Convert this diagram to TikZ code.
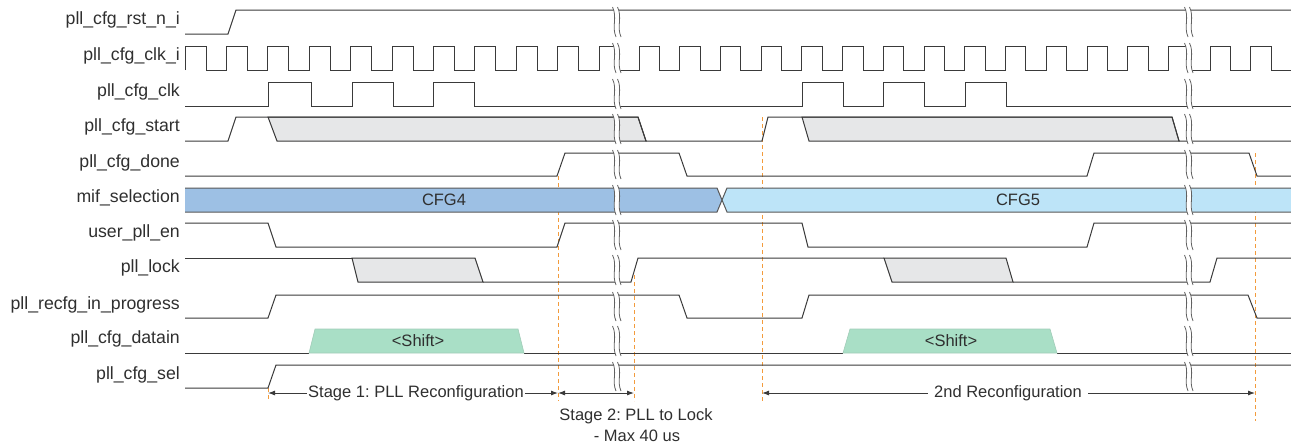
\documentclass[tikz,border=0pt]{standalone}
\usepackage{fontspec}
\setmainfont{Liberation Sans}
\usetikzlibrary{arrows.meta}
\definecolor{wire}{HTML}{3A3A3A}
\definecolor{txt}{HTML}{2F2F2F}
\definecolor{grayfill}{HTML}{E6E7E8}
\definecolor{cfgfour}{HTML}{9DC0E4}
\definecolor{cfgfive}{HTML}{BDE4F8}
\definecolor{shiftgreen}{HTML}{A9DFC6}
\definecolor{guide}{HTML}{F39B3C}
\frenchspacing
\newcommand{\us}{\char"5F\relax}
\tikzset{
  sig/.style={draw=wire, line width=1pt, line join=miter},
  lbl/.style={anchor=mid east, inner sep=0pt, text=txt, font=\fontsize{17.7}{21}\selectfont},
  intxt/.style={inner sep=0pt, text=txt, font=\fontsize{16.5}{19}\selectfont},
  ann/.style={inner sep=1pt, text=txt, font=\fontsize{16.5}{19}\selectfont},
  guideline/.style={draw=guide, line width=1pt, dash pattern=on 4pt off 3pt},
  dim/.style={draw=wire, line width=0.9pt, -{Latex[length=7pt,width=5pt]}},
  dimboth/.style={draw=wire, line width=0.9pt, {Latex[length=7pt,width=5pt]}-{Latex[length=7pt,width=5pt]}},
  brkline/.style={draw=wire!80, line width=0.8pt}
}
\newcommand{\brkmark}[3]{%
  \fill[white] (#1-2.5,#2-3) .. controls (#1+2.5,#2+7) and (#1-3.5,#3-7) .. (#1+1,#3+3)
    -- (#1+6,#3+3) .. controls (#1+1.5,#3-7) and (#1+7.5,#2+7) .. (#1+2.5,#2-3) -- cycle;
  \draw[brkline] (#1-2.5,#2-3) .. controls (#1+2.5,#2+7) and (#1-3.5,#3-7) .. (#1+1,#3+3);
  \draw[brkline] (#1+2.5,#2-3) .. controls (#1+7.5,#2+7) and (#1+1.5,#3-7) .. (#1+6,#3+3);
}
\begin{document}
\begin{tikzpicture}[x=1pt,y=-1pt]
\useasboundingbox (0,0) rectangle (1291,445);

% ---------- labels ----------
\node[lbl] (l1) at (180,22) {pll\us cfg\us rst\us n\us i};
\node[lbl] (l2) at (180,58) {pll\us cfg\us clk\us i};
\node[lbl] (l3) at (180,94) {pll\us cfg\us clk};
\node[lbl] (l4) at (180,129) {pll\us cfg\us start};
\node[lbl] (l5) at (180,164.5) {pll\us cfg\us done};
\node[lbl] (l6) at (180,200) {mif\us selection};
\node[lbl] (l7) at (180,235) {user\us pll\us en};
\node[lbl] (l8) at (180,270) {pll\us lock};
\node[lbl] (l9) at (180,306.5) {pll\us recfg\us in\us progress};
\node[lbl] (l10) at (180,341) {pll\us cfg\us datain};
\node[lbl] (l11) at (180,376.5) {pll\us cfg\us sel};

% ---------- orange guides (behind) ----------
\draw[guideline] (268,388) -- (268,401);
\draw[guideline] (558,176) -- (558,401);
\draw[guideline] (634,275) -- (634,401);
\draw[guideline] (762,117) -- (762,401);
\draw[guideline] (1255,153) -- (1255,421);

% ---------- pll_cfg_rst_n_i ----------
\draw[sig] (185,34) -- (228,34) -- (236,10) -- (1291,10);

% ---------- pll_cfg_clk_i ----------
\draw[sig] (185,70) -- (185,46)
  \foreach \k in {0,...,9} { -- ({185+41.4*\k},46) -- ({185+41.4*\k+21},46) -- ({185+41.4*\k+21},70) -- ({185+41.4*(\k+1)},70) -- ({185+41.4*(\k+1)},46) }
  -- (618,46) -- (618,70) -- (639,70) -- (639,46)
  \foreach \k in {0,...,12} { -- ({639+40.73*\k+20.4},46) -- ({639+40.73*\k+20.4},70) -- ({639+40.73*(\k+1)},70) -- ({639+40.73*(\k+1)},46) }
  -- (1189,46) -- (1189,70) -- (1210,70) -- (1210,46) -- (1230.5,46) -- (1230.5,70) -- (1250.7,70) -- (1250.7,46) -- (1271,46) -- (1271,70) -- (1291,70);

% ---------- pll_cfg_clk ----------
\draw[sig] (185,106) -- (268,106) -- (268,82) -- (311,82) -- (311,106) -- (352,106) -- (352,82) -- (393,82) -- (393,106)
  -- (433,106) -- (433,82) -- (474,82) -- (474,106) -- (802,106) -- (802,82) -- (843,82) -- (843,106) -- (883,106) -- (883,82)
  -- (924,82) -- (924,106) -- (965,106) -- (965,82) -- (1006,82) -- (1006,106) -- (1291,106);

% ---------- pll_cfg_start ----------
\filldraw[sig, fill=grayfill] (268,117) -- (277,141) -- (646,141) -- (638,117) -- cycle;
\filldraw[sig, fill=grayfill] (802,117) -- (809,141) -- (1179,141) -- (1172,117) -- cycle;
\draw[sig] (185,141) -- (228,141) -- (236,117) -- (638,117) -- (646,141) -- (762,141) -- (768,117) -- (1172,117) -- (1179,141) -- (1291,141);

% ---------- pll_cfg_done ----------
\draw[sig] (185,176) -- (557,176) -- (565,153) -- (679,153) -- (687,176) -- (1087,176) -- (1094,153) -- (1249,153) -- (1257,176) -- (1291,176);

% ---------- mif_selection ----------
\fill[cfgfour] (185,188) -- (717,188) -- (722,200) -- (717,212) -- (185,212) -- cycle;
\draw[sig, draw=wire!85] (185,188) -- (717,188) -- (722,200) -- (717,212) -- (185,212);
\fill[cfgfive] (1291,188) -- (727,188) -- (722,200) -- (727,212) -- (1291,212) -- cycle;
\draw[sig, draw=wire!85] (1291,188) -- (727,188) -- (722,200) -- (727,212) -- (1291,212);
\node[intxt] (cfg4) at (444,200) {CFG4};
\node[intxt] (cfg5) at (1018,200) {CFG5};

% ---------- user_pll_en ----------
\draw[sig] (185,223) -- (268,223) -- (276,247) -- (557,247) -- (565,223) -- (802,223) -- (808,247) -- (1087,247) -- (1094,223) -- (1291,223);

% ---------- pll_lock ----------
\filldraw[sig, fill=grayfill] (352,258) -- (358,282) -- (483,282) -- (475,258) -- cycle;
\filldraw[sig, fill=grayfill] (884,258) -- (892,282) -- (1013,282) -- (1006,258) -- cycle;
\draw[sig] (185,258) -- (352,258);
\draw[sig] (483,282) -- (631,282) -- (638,258) -- (884,258);
\draw[sig] (1013,282) -- (1210,282) -- (1217,258) -- (1291,258);

% ---------- pll_recfg_in_progress ----------
\draw[sig] (185,318) -- (268,318) -- (276,295) -- (679,295) -- (687,318) -- (802,318) -- (809,295) -- (1248,295) -- (1257,318) -- (1291,318);

% ---------- pll_cfg_datain ----------
\draw[sig] (185,353) -- (309,353);
\draw[sig] (524,353) -- (843,353);
\draw[sig] (1057,353) -- (1291,353);
\filldraw[fill=shiftgreen, draw=shiftgreen!80!gray, line width=0.6pt] (309,353) -- (315,329) -- (518,329) -- (524,353) -- cycle;
\filldraw[fill=shiftgreen, draw=shiftgreen!80!gray, line width=0.6pt] (843,353) -- (850,329) -- (1050,329) -- (1057,353) -- cycle;
\node[intxt] (sh1) at (418,341) {<Shift>};
\node[intxt] (sh2) at (951,341) {<Shift>};

% ---------- pll_cfg_sel ----------
\draw[sig] (185,388) -- (268,388) -- (276,365) -- (1291,365);

% ---------- break marks ----------
\foreach \t/\b in {10/34, 46/70, 82/106, 117/141, 153/176, 188/212, 223/247, 258/282, 295/318, 329/353, 365/388} {
  \brkmark{615}{\t}{\b}
  \brkmark{1187}{\t}{\b}
}

% ---------- annotations ----------
\coordinate (m1) at (268,393);
\coordinate (m2) at (558,393);
\coordinate (m3) at (634,393);
\coordinate (m4) at (762,393);
\coordinate (m5) at (1255,393);
\node[ann] (s1) at (416,393) {Stage 1: PLL Reconfiguration};
\draw[dim] (s1.west) -- (m1);
\draw[dim] (s1.east) -- (m2);
\draw[dimboth] (m2) -- (m3);
\node[ann] (s2) at (636,416) {Stage 2: PLL to Lock};
\node[ann] (s2b) at (637,436) {- Max 40 us};
\node[ann, inner sep=6pt] (s3) at (1008,393) {2nd Reconfiguration};
\draw[dim] (s3.west) -- (m4);
\draw[dim] (s3.east) -- (m5);
\end{tikzpicture}
\end{document}
